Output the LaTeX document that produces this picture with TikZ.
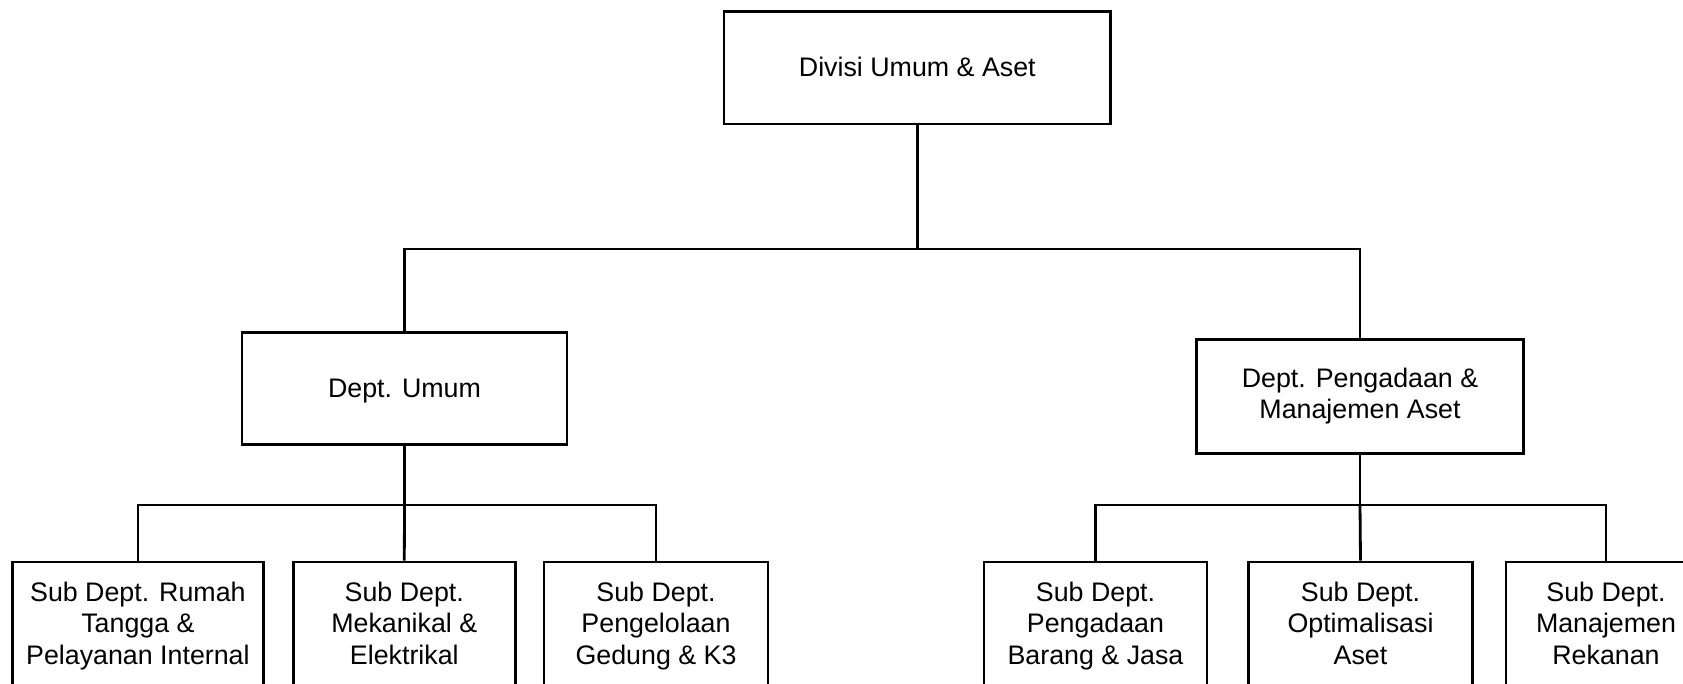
\documentclass[tikz,border=0pt]{standalone}
\usepackage{fontspec}
\setmainfont{Liberation Sans}
% strut that fixes the height and depth of one-line labels
\newcommand{\onestrut}{\rule[-7.3pt]{0pt}{32pt}}
\begin{document}
\begin{tikzpicture}[x=1pt,y=-1pt,
  unit/.style={draw, line width=2.8pt, rectangle, inner sep=0pt, align=center,
    font=\fontsize{26.8}{31.2}\selectfont},
  oneline/.style={unit,
    execute at begin node=\onestrut, execute at end node=\onestrut},
  subunit/.style={unit, minimum height=129.4pt},
  link/.style={line width=2.8pt}]
\useasboundingbox (0,0) rectangle (1683,684);
\clip (0,0) rectangle (1683,684);

% division
\node[oneline, minimum width=386.7pt, minimum height=112.7pt] (div) at (917.3,67.7) {Divisi Umum \& Aset};

% departments
\node[oneline, minimum width=325pt, minimum height=111.5pt] (umum) at (404.5,388.5) {Dept. Umum};
\node[unit, minimum width=326.5pt, minimum height=114pt] (peng) at (1360,396.5) {\strut Dept. Pengadaan \&\\Manajemen Aset\strut};

% sub departments under Dept. Umum
\node[subunit, minimum width=251pt] (s1) at (137.9,626.7) {\strut Sub Dept. Rumah\\Tangga \&\\Pelayanan Internal\strut};
\node[subunit, minimum width=222pt] (s2) at (404.3,626.7) {\strut Sub Dept.\\Mekanikal \&\\Elektrikal\strut};
\node[subunit, minimum width=224pt] (s3) at (656,626.7) {\strut Sub Dept.\\Pengelolaan\\Gedung \& K3\strut};

% sub departments under Dept. Pengadaan & Manajemen Aset
\node[subunit, minimum width=223pt] (s4) at (1095.5,626.7) {\strut Sub Dept.\\Pengadaan\\Barang \& Jasa\strut};
\node[subunit, minimum width=224pt] (s5) at (1360.5,626.7) {\strut Sub Dept.\\Optimalisasi\\Aset\strut};
\node[subunit, minimum width=200pt] (s6) at (1606,626.7) {\strut Sub Dept.\\Manajemen\\Rekanan\strut};

% bus junctions
\coordinate (j0) at (917.3,249);
\coordinate (j1) at (404.5,505);
\coordinate (j2) at (1360,505);

% connectors
\draw[link] (div.south) -- (j0);
\draw[link] (umum.north) |- (j0) -| (peng.north);

\draw[link] (umum.south) -- (j1);
\draw[link] (s1.north) |- (j1) -| (s3.north);
\draw[link] (j1) -- (s2.north);

\draw[link] (peng.south) -- (j2);
\draw[link] (s4.north) |- (j2) -| (s6.north);
\draw[link] (j2) -- (s5.north);
\end{tikzpicture}
\end{document}
